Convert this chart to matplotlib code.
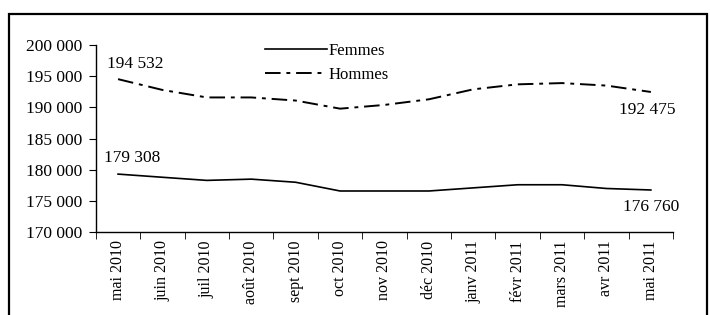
import matplotlib
matplotlib.use("Agg")
import matplotlib.pyplot as plt
from matplotlib.patches import Rectangle

plt.rcParams['font.family'] = ['Liberation Serif', 'DejaVu Serif']

# Data
mois = ["mai 2010", "juin 2010", "juil 2010", "août 2010", "sept 2010", "oct 2010",
        "nov 2010", "déc 2010", "janv 2011", "févr 2011", "mars 2011", "avr 2011", "mai 2011"]
femmes = [179308, 178800, 178300, 178500, 178000, 176600, 176600, 176600,
          177100, 177600, 177600, 177000, 176760]
hommes = [194532, 192800, 191600, 191600, 191100, 189800, 190400, 191300,
          192900, 193700, 193900, 193500, 192475]
yticks = [170000, 175000, 180000, 185000, 190000, 195000, 200000]


def fmt(v):
    return f"{v:,}".replace(",", " ")


fig = plt.figure(figsize=(7.1, 3.15), dpi=100)
ax = fig.add_axes([0.135, 0.263, 0.813, 0.594])

x = list(range(len(mois)))
ax.plot(x, femmes, color='black', lw=1.2, label='Femmes')
ax.plot(x, hommes, color='black', lw=1.4, dashes=(8, 3, 2, 3), label='Hommes')

ax.set_xlim(-0.5, len(mois) - 0.5)
ax.set_ylim(170000, 200000)
ax.set_yticks(yticks)
ax.set_yticklabels([fmt(v) for v in yticks], fontsize=12.5)

ax.set_xticks(x)
ax.set_xticklabels(mois, rotation=90, fontsize=11.5)
ax.tick_params(axis='x', which='major', length=0, pad=6)
ax.set_xticks([i - 0.5 for i in range(len(mois) + 1)], minor=True)
ax.tick_params(axis='x', which='minor', length=5, direction='out')
ax.tick_params(axis='y', length=5, direction='out', pad=5)

for s in ['top', 'right']:
    ax.spines[s].set_visible(False)
for s in ['left', 'bottom']:
    ax.spines[s].set_linewidth(1.0)

# end value labels
ax.text(-0.25, 196950, fmt(hommes[0]), fontsize=12.5, ha='left', va='center')
ax.text(-0.32, 181860, fmt(femmes[0]), fontsize=12.5, ha='left', va='center')
ax.text(12.56, 189570, fmt(hommes[-1]), fontsize=12.5, ha='right', va='center')
ax.text(12.65, 174000, fmt(femmes[-1]), fontsize=12.5, ha='right', va='center')

leg = fig.legend(*ax.get_legend_handles_labels(), loc='upper left',
                 bbox_to_anchor=(265 / 710, 1 - 43 / 315), frameon=False,
                 fontsize=12, handlelength=3.7, handletextpad=0.1,
                 labelspacing=0.5, borderpad=0, borderaxespad=0)

# outer frame of the chart area
fig.patches.append(Rectangle((9 / 710, -0.05), 698 / 710, 1 - 14 / 315 + 0.05,
                             transform=fig.transFigure, fill=False,
                             edgecolor='black', lw=1.6, clip_on=False))

fig.savefig("out.png", dpi=100)
